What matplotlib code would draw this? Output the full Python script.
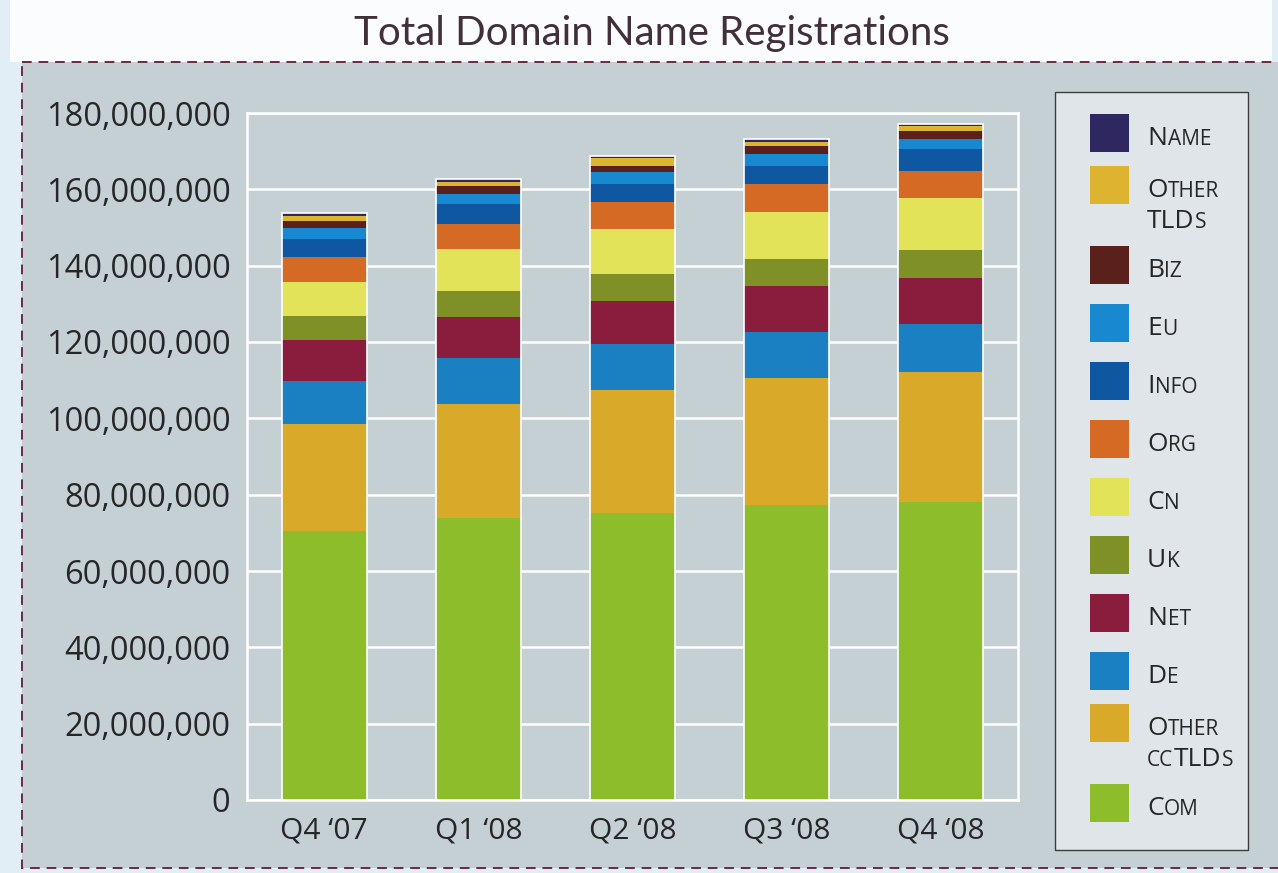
import numpy as np
import matplotlib
matplotlib.use("Agg")
import matplotlib.pyplot as plt
from matplotlib.patches import Rectangle
from matplotlib.ticker import FuncFormatter, MultipleLocator


# ---- data (millions of registrations) ----
quarters = ["Q4 \u201807", "Q1 \u201808", "Q2 \u201808", "Q3 \u201808", "Q4 \u201808"]

com = [70.6, 74.0, 75.1, 77.2, 78.2]
other_cctlds = [27.8, 29.7, 32.3, 33.3, 33.9]
de = [11.3, 12.1, 12.1, 12.1, 12.6]
net = [10.8, 10.8, 11.3, 12.1, 12.1]
uk = [6.3, 6.8, 7.1, 7.1, 7.3]
cn = [8.9, 11.0, 11.8, 12.3, 13.6]
org = [6.6, 6.6, 7.1, 7.3, 7.1]
info = [4.7, 5.2, 4.7, 4.7, 5.8]
eu = [2.9, 2.6, 3.1, 3.1, 2.6]
biz = [1.8, 2.1, 1.6, 2.1, 2.1]
other_tlds = [1.3, 1.0, 2.1, 1.0, 1.3]
name = [0.8, 0.8, 0.5, 1.0, 0.5]

# bottom -> top of stack
series_labels = ["Com", "Other ccTLDs", "De", "Net", "Uk", "Cn",
                 "Org", "Info", "Eu", "Biz", "Other TLDs", "Name"]
series_values = [com, other_cctlds, de, net, uk, cn,
                 org, info, eu, biz, other_tlds, name]
series_colors = ["#8dbd2b", "#d9aa2a", "#1b80c2", "#8a1d3d", "#7f9027", "#e3e35a",
                 "#d56a25", "#0f57a1", "#1889d1", "#5a201b", "#dcb42f", "#2e2760"]

PANEL = "#c5d0d5"
W, H = 1278, 873

fig = plt.figure(figsize=(W / 100, H / 100), dpi=100)
fig.patch.set_facecolor("#e2eef6")

# overlay in pixel coordinates for panel, title and legend
bg = fig.add_axes([0, 0, 1, 1], zorder=0)
bg.set_xlim(0, W)
bg.set_ylim(H, 0)
bg.axis("off")

bg.add_patch(Rectangle((10, 0), 1262, 62, facecolor="#fbfcfd", edgecolor="none"))
bg.add_patch(Rectangle((22, 62), 1300, 806, facecolor=PANEL, edgecolor="#6c2843",
                       lw=1.4, linestyle=(0, (5, 3.5))))
bg.text(652, 33, "Total Domain Name Registrations", ha="center", va="center",
        fontsize=29, color="#41303a", family="Lato")

# ---- stacked bars ----
ax = fig.add_axes([247 / W, 1 - 800 / H, 771 / W, 687 / H], zorder=1)
ax.set_facecolor(PANEL)

x = np.arange(len(quarters))
bottom = np.zeros(len(quarters))
for vals, col in zip(series_values, series_colors):
    v = np.array(vals) * 1e6
    ax.bar(x, v, 0.55, bottom=bottom, color=col, edgecolor="none", zorder=3)
    bottom += v
# thin white outline round each stack
ax.bar(x, bottom, 0.55, fill=False, edgecolor="white", lw=1.2, zorder=4)

ax.set_xlim(-0.5, len(quarters) - 0.5)
ax.set_ylim(0, 180e6)
ax.yaxis.set_major_locator(MultipleLocator(20e6))
ax.yaxis.set_major_formatter(FuncFormatter(lambda v, p: f"{v:,.0f}"))
ax.set_xticks(x)
ax.set_xticklabels(quarters)
ax.grid(axis="y", color="white", lw=1.8, zorder=1)
ax.tick_params(length=0, labelcolor="#262626")
ax.tick_params(axis="y", pad=12, labelsize=23.5)
ax.tick_params(axis="x", pad=12, labelsize=21.5)
for lab in ax.get_xticklabels() + ax.get_yticklabels():
    lab.set_family("Open Sans")
for sp in ax.spines.values():
    sp.set_color("white")
    sp.set_linewidth(1.8)

# ---- legend (hand drawn, small caps) ----
bg2 = fig.add_axes([0, 0, 1, 1], zorder=2)
bg2.set_xlim(0, W)
bg2.set_ylim(H, 0)
bg2.axis("off")
bg2.add_patch(Rectangle((1055, 92), 193, 758, facecolor="#dfe5e8",
                        edgecolor="#3c3c3c", lw=1.0))

renderer = fig.canvas.get_renderer()


def small_caps(x0, y0, text, big=19, small=15):
    # upper case letters full size, lower case as smaller capitals
    runs = []
    for ch in text:
        up = not ch.islower()
        if runs and runs[-1][1] == up:
            runs[-1][0] += ch
        else:
            runs.append([ch, up])
    cx = x0
    for s, up in runs:
        t = bg2.text(cx, y0, s.upper(), fontsize=big if up else small,
                     family="Open Sans", color="#262626", va="baseline", ha="left")
        cx += t.get_window_extent(renderer).width + 0.5


y = 133
prev_two = False
for i, (lab, col) in enumerate(zip(series_labels[::-1], series_colors[::-1])):
    words = lab.split(" ")
    two = len(words) > 1
    if i > 0:
        y += 80 if prev_two else (52 if two else 58)
    bg2.add_patch(Rectangle((1090, y - 19), 39, 38, facecolor=col, edgecolor="none"))
    for j, w in enumerate(words):
        small_caps(1147, y + 12 + j * 31, w)
    prev_two = two

fig.savefig("out.png", dpi=100, facecolor=fig.get_facecolor())
